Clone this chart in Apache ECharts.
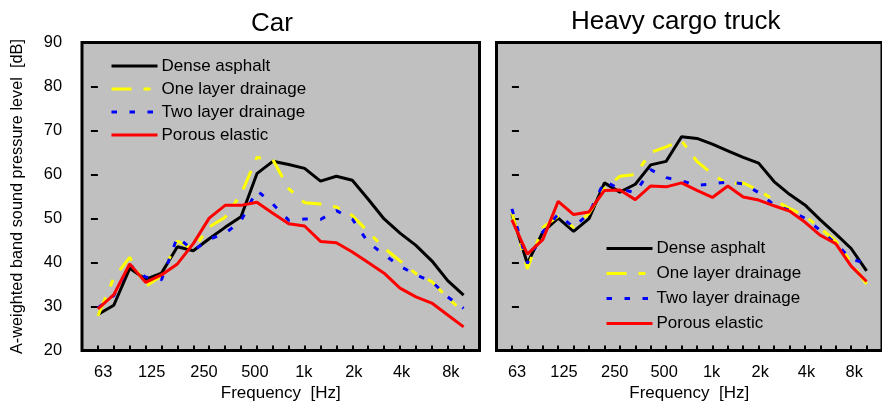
<!DOCTYPE html>
<html>
<head>
<meta charset="utf-8">
<script src="https://cdn.jsdelivr.net/npm/echarts@6/dist/echarts.min.js"></script>
<style>
  html, body { margin: 0; padding: 0; background: #fff; }
  #chart { width: 882px; height: 407px; }
</style>
</head>
<body>
<div id="chart"></div>
<script>
// 1/3 octave bands, 50 Hz .. 10 kHz
var bands = ['50', '63', '80', '100', '125', '160', '200', '250', '315', '400', '500', '630',
    '800', '1k', '1.25k', '1.6k', '2k', '2.5k', '3.15k', '4k', '5k', '6.3k', '8k', '10k'];
var tickLabels = ['63', '125', '250', '500', '1k', '2k', '4k', '8k'];
var yTicks = [20, 30, 40, 50, 60, 70, 80, 90];
var surfaces = ['Dense asphalt', 'One layer drainage', 'Two layer drainage', 'Porous elastic'];

// Car
var denseCar = [28.2, 30.3, 38.7, 36.2, 37.6, 43.6, 42.7, 45.4, 48.0, 50.4, 60.2, 63.0,
    62.3, 61.4, 58.5, 59.6, 58.7, 54.4, 49.9, 46.7, 43.9, 40.4, 35.9, 32.6];
var oneLayerCar = [27.9, 36.5, 41.2, 34.6, 37.0, 44.9, 43.0, 48.1, 50.3, 55.5, 63.9, 63.4,
    56.8, 53.6, 53.3, 52.6, 50.7, 47.0, 43.3, 40.4, 37.5, 35.7, 32.0, 28.8];
var twoLayerCar = [29.7, 32.5, 39.5, 36.7, 36.1, 45.8, 42.7, 45.3, 46.6, 49.5, 56.4, 53.3,
    49.6, 49.9, 49.8, 51.8, 49.9, 44.6, 41.8, 39.2, 37.2, 35.7, 32.2, 29.6];
var porousCar = [29.5, 32.7, 39.7, 35.5, 37.2, 39.7, 44.3, 50.1, 53.0, 53.0, 53.7, 51.2,
    48.8, 48.3, 44.8, 44.5, 42.4, 40.0, 37.6, 34.2, 32.2, 30.8, 28.1, 25.4];

// Heavy cargo truck
var denseTruck = [51.0, 39.8, 46.9, 50.1, 47.1, 50.0, 58.1, 56.0, 57.8, 62.2, 63.0, 68.6,
    68.2, 66.9, 65.4, 63.9, 62.6, 58.4, 55.5, 53.1, 49.7, 46.5, 43.2, 38.1];
var oneLayerTruck = [51.4, 38.6, 48.0, 50.5, 48.0, 51.2, 56.8, 59.6, 60.0, 65.0, 66.3, 67.7,
    63.0, 60.1, 57.8, 58.1, 56.4, 54.2, 52.3, 50.6, 47.8, 44.9, 40.0, 35.1];
var twoLayerTruck = [52.2, 39.8, 46.9, 51.0, 48.0, 51.2, 58.5, 56.7, 55.9, 61.1, 59.3, 58.6,
    57.5, 57.9, 58.3, 57.9, 55.9, 53.1, 51.9, 50.1, 47.3, 44.3, 40.8, 39.8];
var porousTruck = [49.7, 41.9, 45.2, 53.9, 50.9, 51.5, 56.4, 56.5, 54.3, 57.4, 57.2, 58.1,
    56.4, 54.8, 57.4, 54.9, 54.2, 52.9, 51.7, 49.2, 46.2, 44.3, 39.2, 35.7];

// where the frequency labels sit along the band axis (they drift a bit from the ticks)
var tickLabelPos = [0.33, 3.38, 6.67, 9.87, 12.95, 16.1, 19.1, 22.2];

var font = 'Liberation Sans, Arial, sans-serif';
var colors = ['#000000', '#ffff00', '#0000ff', '#ff0000'];
var dashes = ['solid', [20, 12, 7, 12], [5.5, 12.5], 'solid'];

function pairs(values) {
    return values.map(function (v, i) { return [i, v]; });
}

function labelFor(v) {
    var best = 0;
    for (var k = 1; k < tickLabelPos.length; k++) {
        if (Math.abs(tickLabelPos[k] - v) < Math.abs(tickLabelPos[best] - v)) best = k;
    }
    return tickLabels[best];
}

function xAxisFor(gridIndex) {
    return {
        type: 'value',
        gridIndex: gridIndex,
        min: -1,
        max: bands.length,
        name: 'Frequency  [Hz]',
        nameLocation: 'middle',
        nameGap: 33,
        nameTextStyle: { fontSize: 17, color: '#000', fontFamily: font },
        axisLine: { show: false },
        splitLine: { show: false },
        axisTick: {
            show: true,
            inside: true,
            length: 5,
            customValues: bands.map(function (b, i) { return i; }),
            lineStyle: { color: '#000', width: 2 }
        },
        axisLabel: {
            customValues: tickLabelPos,
            formatter: labelFor,
            fontSize: 16.4,
            color: '#000',
            fontFamily: font,
            margin: 13.5
        }
    };
}

function yAxisFor(gridIndex, withLabels) {
    return {
        type: 'value',
        gridIndex: gridIndex,
        min: yTicks[0],
        max: yTicks[yTicks.length - 1],
        interval: 10,
        name: withLabels ? 'A-weighted band sound pressure level  [dB]' : '',
        nameLocation: 'middle',
        nameGap: 56,
        nameTextStyle: { fontSize: 16.3, color: '#000', fontFamily: font },
        axisLine: { show: false },
        splitLine: { show: false },
        axisTick: {
            show: true,
            inside: !withLabels,
            length: 7,
            lineStyle: { color: '#000', width: 2 }
        },
        axisLabel: {
            show: withLabels,
            fontSize: 16.4,
            color: '#000',
            fontFamily: font,
            margin: 20
        }
    };
}

function seriesFor(gridIndex, lists) {
    return lists.map(function (vals, k) {
        return {
            name: surfaces[k],
            type: 'line',
            xAxisIndex: gridIndex,
            yAxisIndex: gridIndex,
            symbol: 'none',
            showSymbol: false,
            silent: true,
            color: colors[k],
            lineStyle: { color: colors[k], width: 3, type: dashes[k] },
            data: pairs(vals)
        };
    });
}

function legendAt(left, top, gap) {
    return {
        data: surfaces,
        orient: 'vertical',
        left: left,
        top: top,
        padding: 0,
        itemWidth: 46,
        itemHeight: 14,
        itemGap: gap,
        itemStyle: { opacity: 0, color: 'transparent', borderWidth: 0 },
        lineStyle: { width: 3 },
        textStyle: { fontSize: 17, lineHeight: 17, color: '#000', fontFamily: font, padding: [0, 0, 0, -1] },
        selectedMode: false
    };
}

var chart = echarts.init(document.getElementById('chart'));
chart.setOption({
    animation: false,
    backgroundColor: '#ffffff',
    textStyle: { fontFamily: font },
    title: [
        { text: 'Car', left: 251, top: 10.5, padding: 0,
          textStyle: { fontSize: 26, fontWeight: 'normal', color: '#000', fontFamily: font } },
        { text: 'Heavy cargo truck', left: 571, top: 8.7, padding: 0,
          textStyle: { fontSize: 26, fontWeight: 'normal', color: '#000', fontFamily: font } }
    ],
    legend: [legendAt(110, 57.5, 6), legendAt(605, 240, 8)],
    grid: [
        { left: 82, top: 42.5, width: 397.5, height: 312.5, show: true,
          backgroundColor: '#c0c0c0', borderColor: '#000', borderWidth: 3 },
        { left: 496.5, top: 42.5, width: 395, height: 312.5, show: true,
          backgroundColor: '#c0c0c0', borderColor: '#000', borderWidth: 3 }
    ],
    xAxis: [xAxisFor(0), xAxisFor(1)],
    yAxis: [yAxisFor(0, true), yAxisFor(1, false)],
    series: seriesFor(0, [denseCar, oneLayerCar, twoLayerCar, porousCar])
        .concat(seriesFor(1, [denseTruck, oneLayerTruck, twoLayerTruck, porousTruck]))
});
</script>
</body>
</html>
